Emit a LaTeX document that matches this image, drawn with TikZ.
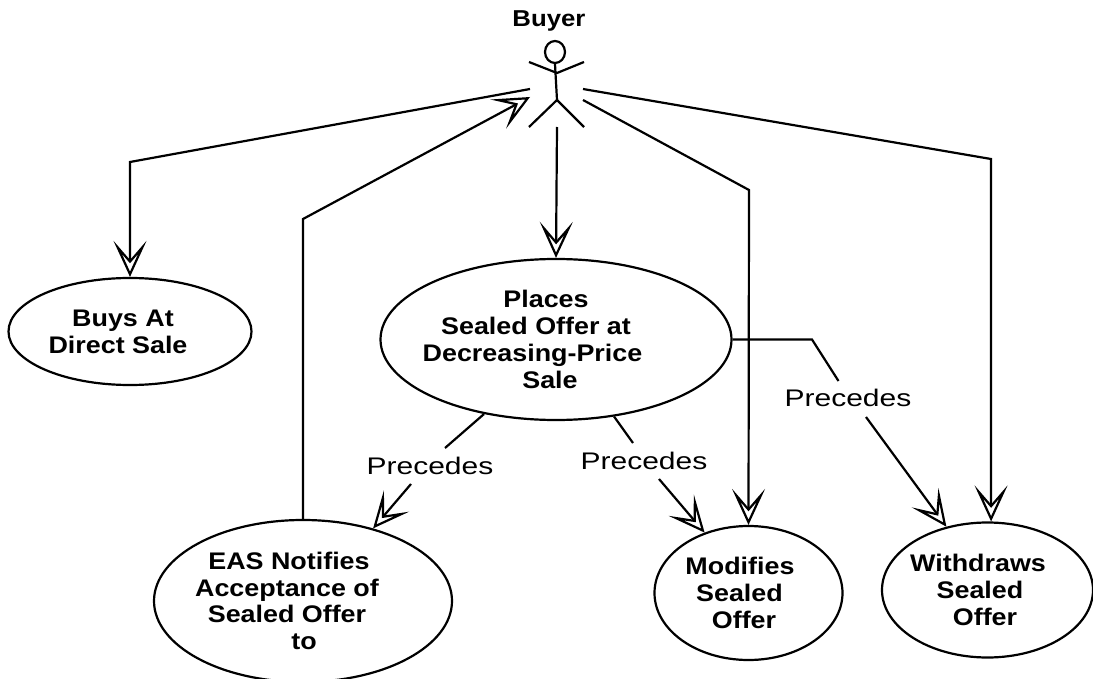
\documentclass[tikz,border=0pt]{standalone}
\usepackage{fontspec}
\setmainfont{Liberation Sans}[FakeStretch=1.12]
\newfontfamily\labelf{Liberation Sans}[FakeStretch=1.25]
\usetikzlibrary{shapes.geometric,arrows.meta}
\newcommand\shln[2]{\makebox[0pt]{\hspace{#1pt}\hspace{#1pt}#2}}
\tikzset{
  usecase/.style={ellipse,draw,line width=2.2pt,inner sep=0pt,align=center,
    font=\fontsize{24}{26.8}\selectfont\bfseries},
  prec/.style={font=\fontsize{24}{26}\labelf,inner sep=0pt},
  conn/.style={line width=2.2pt},
  arr/.style={conn,-{Stealth[open,length=36pt,width=33pt,inset=19pt,line width=2.2pt]}},
  stick/.style={line width=2.2pt}
}
\begin{document}
\begin{tikzpicture}[x=1pt,y=-1pt]
\path[use as bounding box] (0,0) rectangle (1093,679);
\clip (0,0) rectangle (1093,679);
% actor
\node[font=\fontsize{23}{26}\selectfont\bfseries,inner sep=0pt] (buyer) at (549,21) {Buyer};
\node[ellipse,draw,stick,minimum width=20pt,minimum height=22pt,inner sep=0pt] (head) at (555,52) {};
\coordinate (shoulder) at (557,73);
\coordinate (hip) at (557,100);
\coordinate (handL) at (529,62);
\coordinate (handR) at (584,62);
\coordinate (footL) at (529,127);
\coordinate (footR) at (584,127);
\draw[stick] (head.south) -- (hip);
\draw[stick] (handL) -- (shoulder) -- (handR);
\draw[stick] (footL) -- (hip) -- (footR);
% connector free ends at the actor
\coordinate (aL1) at (530,89);
\coordinate (aL2) at (530,97);
\coordinate (aB) at (557,127);
\coordinate (aR1) at (583,100);
\coordinate (aR2) at (583,89);
% use cases
\node[usecase,minimum width=243pt,minimum height=107pt] (buys) at (130,331.5)
  {\shln{-7}{Buys At}\\\shln{-12}{Direct Sale}};
\node[usecase,minimum width=351pt,minimum height=161pt] (places) at (556,339.5)
  {\shln{-10}{Places}\\\shln{-20}{Sealed Offer at}\\\shln{-23.5}{Decreasing-Price}\\\shln{-6}{Sale}};
\node[usecase,minimum width=298pt,minimum height=162pt] (eas) at (303,601)
  {\shln{-14}{EAS Notifies}\\\shln{-16}{Acceptance of}\\\shln{-16}{Sealed Offer}\\\shln{1}{to}};
\node[usecase,minimum width=188pt,minimum height=134pt] (modifies) at (748.5,593)
  {\shln{-8.5}{Modifies}\\\shln{-9}{Sealed}\\\shln{-4.5}{Offer}};
\node[usecase,minimum width=211pt,minimum height=135pt] (withdraws) at (987.5,590)
  {\shln{-9.5}{Withdraws}\\\shln{-7.5}{Sealed}\\\shln{-2.5}{Offer}};
% labels
\node[prec] (p1) at (430,466) {Precedes};
\node[prec] (p2) at (644,461) {Precedes};
\node[prec] (p3) at (848,398) {Precedes};
% actor connectors
\draw[arr] (aL1) -- (130,162) -- (buys.north);
\draw[arr] (eas.north) -- (303,219) -- (aL2);
\draw[arr] (aB) -- (places.north);
\draw[arr] (aR1) -- (749,190) -- (modifies.north);
\draw[arr] (aR2) -- (991,159) -- (withdraws.87);
% precedes connectors
\coordinate (p1a) at (445,448);
\coordinate (p1b) at (411,484);
\draw[conn] (places.226) -- (p1a);
\draw[arr] (p1b) -- (eas.46);
\coordinate (p2a) at (633,443);
\coordinate (p2b) at (659,479);
\draw[conn] (places.307.7) -- (p2a);
\draw[arr] (p2b) -- (modifies.126.9);
\coordinate (p3a) at (838.5,381);
\coordinate (p3b) at (866,417);
\draw[conn] (places.east) -- (812,339.5) -- (p3a);
\draw[arr] (p3b) -- (withdraws.123);
\end{tikzpicture}
\end{document}
